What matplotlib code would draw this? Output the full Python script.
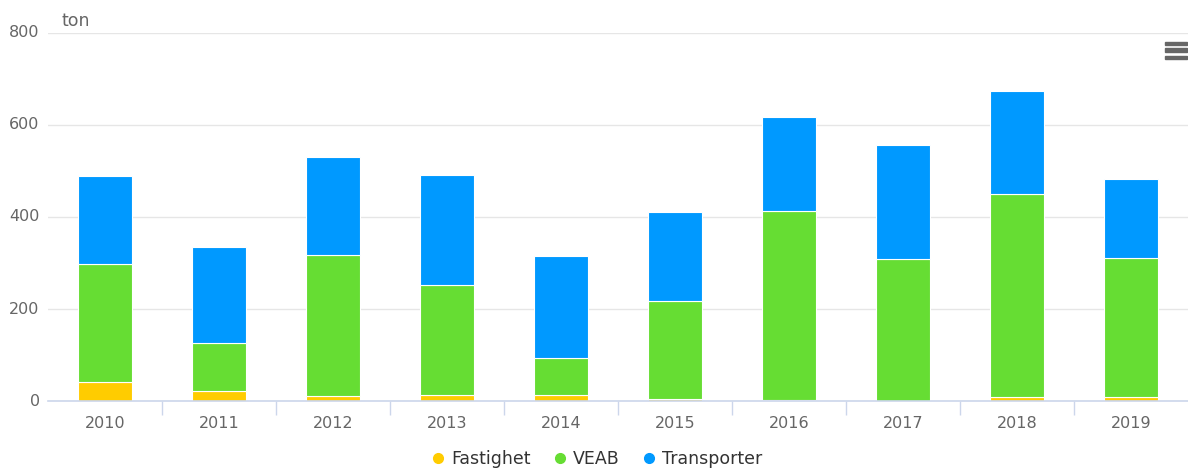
import numpy as np
import matplotlib.pyplot as plt
from matplotlib.lines import Line2D
from matplotlib.patches import Rectangle

years = ['2010', '2011', '2012', '2013', '2014', '2015', '2016', '2017', '2018', '2019']
fastighet = [41, 22, 11, 13, 13, 4, 2, 0, 9, 9]
veab = [257, 104, 306, 239, 80, 213, 411, 309, 441, 302]
transporter = [191, 209, 213, 239, 222, 194, 204, 248, 224, 172]

c_fast = '#ffcc00'
c_veab = '#66dd33'
c_trans = '#0099ff'

plt.rcParams['font.family'] = ['DejaVu Sans']

fig = plt.figure(figsize=(11.88, 4.7), dpi=100)
ax = fig.add_axes([0.0404, 0.1468, 0.9596, 0.783])

x = np.arange(len(years))
w = 0.48
f = np.array(fastighet)
v = np.array(veab)
t = np.array(transporter)
ax.bar(x, f, w, color=c_fast, edgecolor='white', linewidth=0.8, zorder=3)
ax.bar(x, v, w, bottom=f, color=c_veab, edgecolor='white', linewidth=0.8, zorder=3)
ax.bar(x, t, w, bottom=f + v, color=c_trans, edgecolor='white', linewidth=0.8, zorder=3)

ax.set_xlim(-0.5, len(years) - 0.5)
ax.set_ylim(0, 800)
ax.set_yticks([0, 200, 400, 600, 800])
ax.yaxis.grid(True, color='#e6e6e6', linewidth=1, zorder=0)
ax.set_axisbelow(True)

for s in ['top', 'right', 'left']:
    ax.spines[s].set_visible(False)
ax.spines['bottom'].set_color('#ccd6eb')
ax.spines['bottom'].set_linewidth(1.2)
ax.spines['bottom'].set_zorder(4)

ax.set_xticks(x)
ax.set_xticklabels(years)
ax.set_xticks(np.arange(0.5, len(years) - 0.5, 1), minor=True)
ax.tick_params(axis='x', which='major', length=0, pad=11, labelsize=11.5, labelcolor='#666666')
ax.tick_params(axis='x', which='minor', length=10, width=1, color='#ccd6eb')
ax.tick_params(axis='y', length=0, pad=6, labelsize=11.5, labelcolor='#666666')
for lab in ax.get_yticklabels():
    lab.set_verticalalignment('center')
    lab.set_y(lab.get_position()[1])

fig.text(62 / 1188, 1 - 21 / 470, 'ton', fontsize=12.5, color='#666666', va='center', ha='left')

# menu icon
for yy in [43, 50, 57]:
    fig.patches.append(Rectangle((1165 / 1188, 1 - (yy + 2) / 470), 22 / 1188, 3.5 / 470,
                                 transform=fig.transFigure, color='#666666'))

handles = [Line2D([], [], marker='o', linestyle='', markersize=7, color=c) for c in [c_fast, c_veab, c_trans]]
fig.legend(handles, ['Fastighet', 'VEAB', 'Transporter'], loc='center', bbox_to_anchor=(0.501, 1 - 459 / 470),
           ncol=3, frameon=False, handletextpad=0.15, columnspacing=1.1, handlelength=1.2,
           prop={'size': 12.5}, labelcolor='#333333')

plt.savefig('out.png', dpi=100)
